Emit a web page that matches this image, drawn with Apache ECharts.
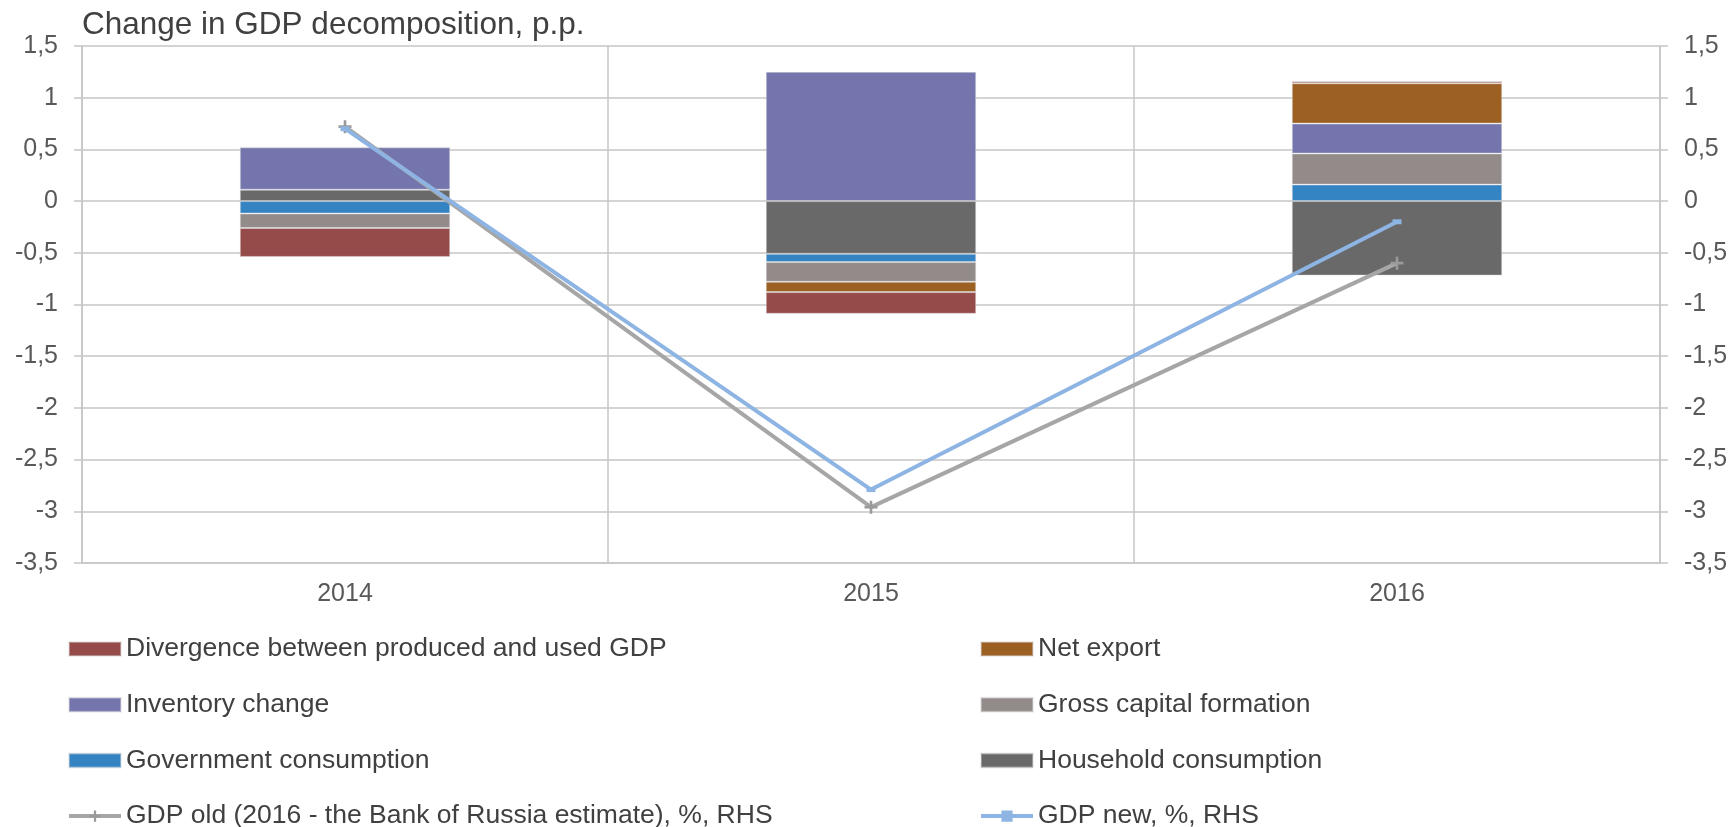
<!DOCTYPE html>
<html>
<head>
<meta charset="utf-8">
<title>Change in GDP decomposition</title>
<script src="https://cdn.jsdelivr.net/npm/echarts@6/dist/echarts.min.js"></script>
<style>
  html, body { margin: 0; padding: 0; background: #ffffff; }
  #chart { width: 1734px; height: 827px; }
</style>
</head>
<body>
<div id="chart"></div>
<script>
// Years on the category axis
const categories = ['2014', '2015', '2016'];

// Contributions to GDP change, p.p. (stacked columns)
const household = [0.11, -0.51, -0.72];
const government = [-0.12, -0.08, 0.16];
const grossCapital = [-0.14, -0.19, 0.30];
const inventory = [0.41, 1.25, 0.29];
const netExport = [0, -0.10, 0.39];
const divergence = [-0.28, -0.21, 0.02];

// GDP growth, %, right-hand scale
const gdpOld = [0.72, -2.96, -0.60];
const gdpNew = [0.70, -2.79, -0.20];

// Value axis range shared by both sides
const axisMin = -3.5;
const axisMax = 1.5;
const axisStep = 0.5;

const FONT = '"Liberation Sans", Arial, sans-serif';
const gridColor = '#c6c6c6';
const textColor = '#404040';
const oldColor = '#a6a6a6';
const newColor = '#8db4e2';

const fmt = v => String(v).replace('.', ',');

const barStyle = color => ({
  color: color,
  borderColor: 'rgba(220,220,220,0.45)',
  borderWidth: 1
});

function barSeries(name, data, color) {
  return {
    name: name,
    type: 'bar',
    stack: 'gdp',
    barWidth: '40%',
    data: data,
    itemStyle: barStyle(color),
    z: 2
  };
}

const plusSymbol = 'path://M4,0 H6 V4 H10 V6 H6 V10 H4 V6 H0 V4 H4 Z';

function valueAxis(position) {
  return {
    type: 'value',
    position: position,
    min: axisMin,
    max: axisMax,
    interval: axisStep,
    axisLine: { show: true, lineStyle: { color: gridColor, width: 1.5 } },
    axisTick: { show: true, length: 8, lineStyle: { color: gridColor, width: 1.5 } },
    axisLabel: {
      formatter: fmt,
      color: '#595959',
      fontFamily: FONT,
      fontSize: 25,
      margin: 24
    },
    splitLine: { show: position === 'left', lineStyle: { color: gridColor, width: 1.5 } }
  };
}

const legendText = { color: textColor, fontFamily: FONT, fontSize: 26.5, lineHeight: 30 };

function legendColumn(left, items) {
  return {
    orient: 'vertical',
    left: left,
    top: 634,
    width: 700,
    height: 240,
    padding: 0,
    itemGap: 25.7,
    itemWidth: 52,
    itemHeight: 14,
    textStyle: legendText,
    data: items
  };
}

const option = {
  backgroundColor: '#ffffff',
  animation: false,
  title: {
    text: 'Change in GDP decomposition, p.p.',
    left: 82,
    top: 9,
    padding: 0,
    textStyle: { color: textColor, fontFamily: FONT, fontSize: 31.5, fontWeight: 'normal' }
  },
  grid: { left: 82, right: 74, top: 46, bottom: 264, containLabel: false },
  legend: [
    legendColumn(67, [
      { name: 'Divergence between produced and used GDP', icon: 'rect' },
      { name: 'Inventory change', icon: 'rect' },
      { name: 'Government consumption', icon: 'rect' },
      {
        name: 'GDP old (2016 - the Bank of Russia estimate), %, RHS',
        lineStyle: { color: oldColor, width: 4 },
        itemStyle: { color: '#9a9a9a' }
      }
    ]),
    legendColumn(979, [
      { name: 'Net export', icon: 'rect' },
      { name: 'Gross capital formation', icon: 'rect' },
      { name: 'Household consumption', icon: 'rect' },
      {
        name: 'GDP new, %, RHS',
        lineStyle: { color: newColor, width: 4 },
        itemStyle: { color: newColor }
      }
    ])
  ],
  xAxis: {
    type: 'category',
    data: categories,
    boundaryGap: true,
    axisLine: { show: true, onZero: false, lineStyle: { color: gridColor, width: 1.5 } },
    axisTick: { show: false },
    axisLabel: { color: '#595959', fontFamily: FONT, fontSize: 25, margin: 19 },
    splitLine: { show: true, interval: 0, lineStyle: { color: gridColor, width: 1.5 } }
  },
  yAxis: [valueAxis('left'), valueAxis('right')],
  series: [
    barSeries('Household consumption', household, '#69696a'),
    barSeries('Government consumption', government, '#3483c3'),
    barSeries('Gross capital formation', grossCapital, '#938a8a'),
    barSeries('Inventory change', inventory, '#7575ae'),
    barSeries('Net export', netExport, '#9d6023'),
    barSeries('Divergence between produced and used GDP', divergence, '#964b4b'),
    {
      name: 'GDP old (2016 - the Bank of Russia estimate), %, RHS',
      type: 'line',
      yAxisIndex: 1,
      data: gdpOld,
      symbol: plusSymbol,
      symbolSize: 13,
      showSymbol: true,
      lineStyle: { color: oldColor, width: 4 },
      itemStyle: { color: '#9a9a9a' },
      z: 5
    },
    {
      name: 'GDP new, %, RHS',
      type: 'line',
      yAxisIndex: 1,
      data: gdpNew,
      symbol: 'rect',
      symbolSize: [9, 5],
      showSymbol: true,
      lineStyle: { color: newColor, width: 4 },
      itemStyle: { color: newColor },
      z: 6
    }
  ]
};

const chart = echarts.init(document.getElementById('chart'), null, { renderer: 'canvas' });
chart.setOption(option);
</script>
</body>
</html>
